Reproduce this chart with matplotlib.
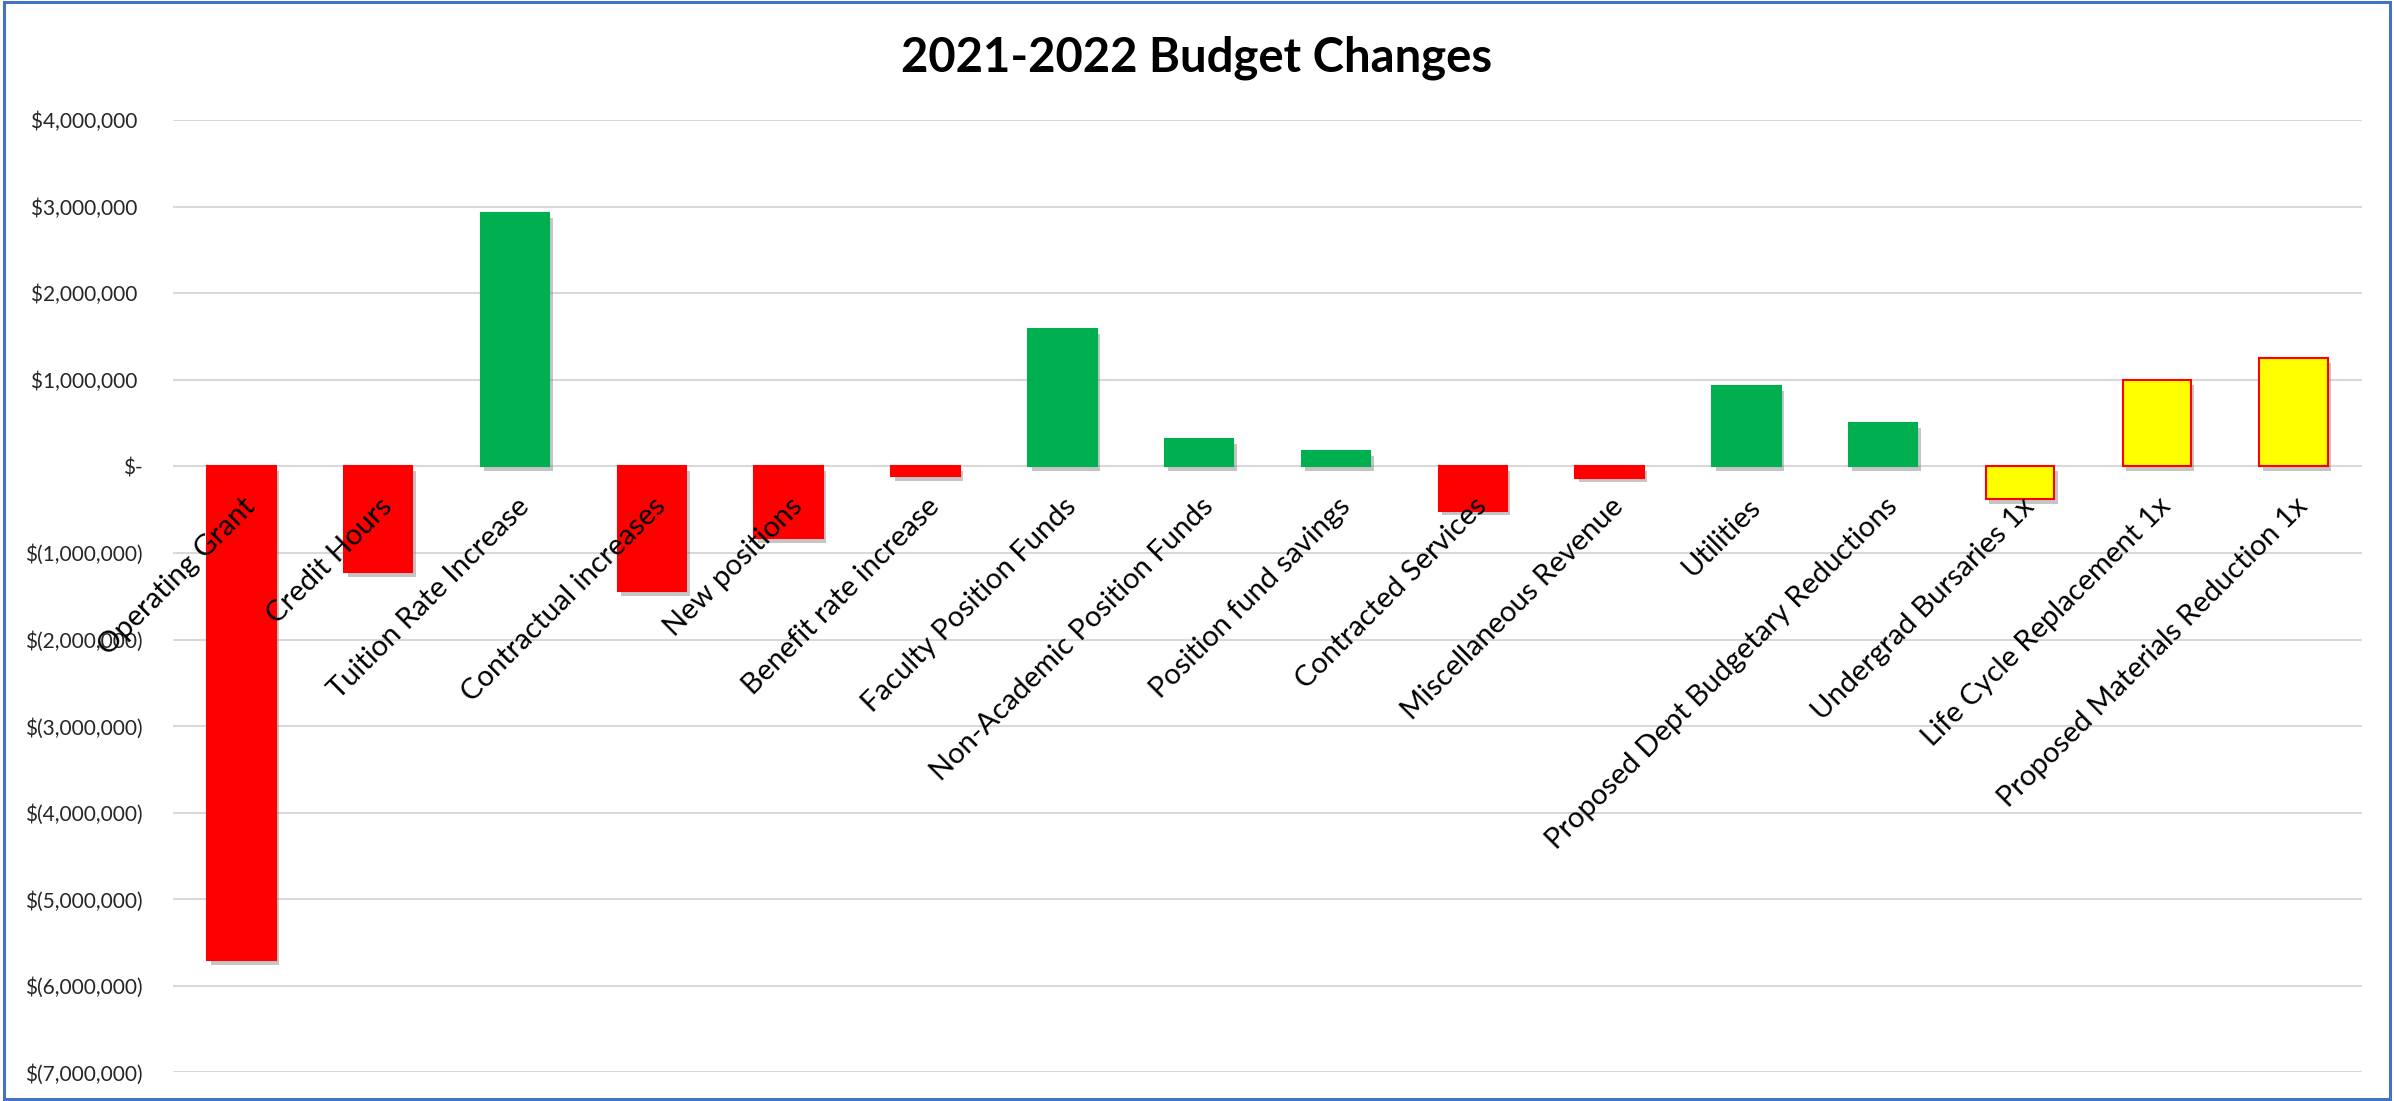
import matplotlib
matplotlib.use('Agg')
import matplotlib.pyplot as plt
import matplotlib.patheffects as pe
from matplotlib.transforms import offset_copy
from matplotlib.patches import Rectangle
from matplotlib.ticker import FuncFormatter

# budget line items and their change (dollars)
categories = ['Operating Grant', 'Credit Hours', 'Tuition Rate Increase',
              'Contractual increases', 'New positions', 'Benefit rate increase',
              'Faculty Position Funds', 'Non-Academic Position Funds',
              'Position fund savings', 'Contracted Services',
              'Miscellaneous Revenue', 'Utilities',
              'Proposed Dept Budgetary Reductions', 'Undergrad Bursaries 1x',
              'Life Cycle Replacement 1x', 'Proposed Materials Reduction 1x']
changes = [-5700000, -1216000, 2930000, -1440000, -830000, -110000,
           1590000, 320000, 180000, -510000, -130000, 930000,
           500000, -380000, 1000000, 1250000]
one_time = [False] * 13 + [True] * 3
y_ticks = [4000000, 3000000, 2000000, 1000000, 0, -1000000, -2000000,
           -3000000, -4000000, -5000000, -6000000, -7000000]

plt.rcParams['font.family'] = ['Lato', 'DejaVu Sans']

fig = plt.figure(figsize=(23.94, 11.01), dpi=100)
ax = fig.add_axes([0.0723, 0.0259, 0.9143, 0.8651])

face = []
edge = []
for v, once in zip(changes, one_time):
    if once:
        face.append('#FFFF00')
        edge.append('#FF0000')
    elif v < 0:
        face.append('#FF0000')
        edge.append('#FF0000')
    else:
        face.append('#00B050')
        edge.append('#00B050')

x = list(range(len(categories)))
bars = ax.bar(x, changes, width=0.5, color=face, edgecolor=edge,
              linewidth=1.5, zorder=3)
for b in bars:
    b.set_path_effects([pe.SimplePatchShadow(offset=(2.5, -3.5),
                                             shadow_rgbFace='#7F7F7F', alpha=0.45),
                        pe.Normal()])

ax.set_xlim(-0.5, len(categories) - 0.5)
ax.set_ylim(-7000000, 4000000)
ax.set_yticks(y_ticks)


def money(v, pos):
    if v == 0:
        return '$-'
    if v < 0:
        return '$({:,.0f})'.format(-v)
    return '${:,.0f} '.format(v)


ax.yaxis.set_major_formatter(FuncFormatter(money))
ax.tick_params(axis='y', length=0, pad=22, labelsize=15, labelcolor='#262626')
ax.set_xticks([])
ax.grid(axis='y', color='#D9D9D9', linewidth=1.5, zorder=0)
for s in ax.spines.values():
    s.set_visible(False)

# category labels hang off the zero line, rotated
lab_trans = offset_copy(ax.transData, fig=fig, x=10, y=-36, units='dots')
for i, name in enumerate(categories):
    ax.text(i, 0, name, transform=lab_trans, rotation=45, rotation_mode='anchor',
            ha='right', va='center', fontsize=21, color='black', zorder=5)

fig.text(0.5, 0.948, '2021-2022 Budget Changes', ha='center', va='center',
         fontsize=34, fontweight='bold')

fig.patches.append(Rectangle((0.0015, 0.002), 0.997, 0.996, transform=fig.transFigure,
                             fill=False, edgecolor='#4472C4', linewidth=2.2))

fig.savefig('out.png', dpi=100)
